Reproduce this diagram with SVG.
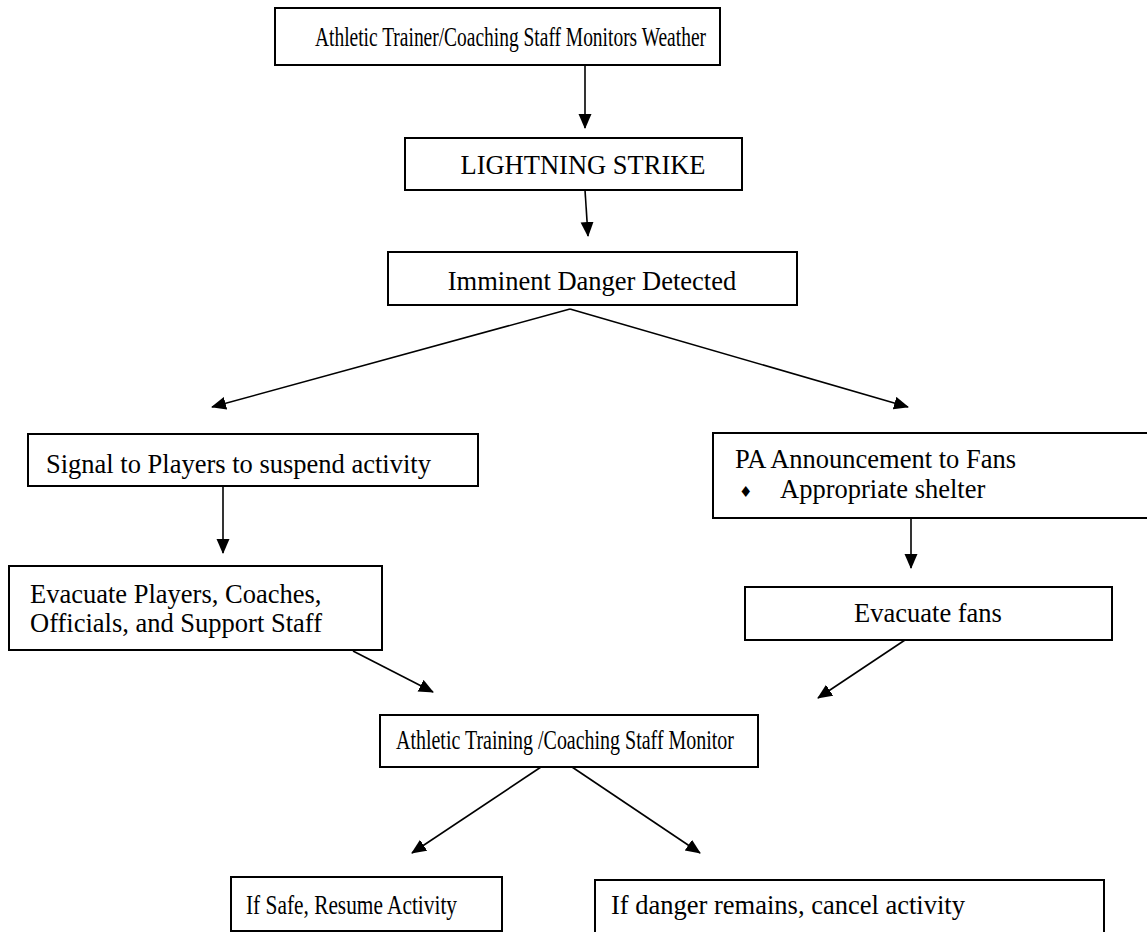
<svg xmlns="http://www.w3.org/2000/svg" width="1147" height="932" viewBox="0 0 1147 932">
<style>
.box{fill:#fff;stroke:#000;stroke-width:2}
.t{font-family:"Liberation Serif","Times New Roman",serif;font-size:26.5px;fill:#000}
.c{text-anchor:middle}
.ln{stroke:#000;stroke-width:1.6;fill:none;marker-end:url(#ah)}
</style>
<defs>
<marker id="ah" markerUnits="userSpaceOnUse" markerWidth="16" markerHeight="14" refX="14" refY="6.5" orient="auto" viewBox="0 0 16 14">
<path d="M0,0 L15,6.5 L0,13 z" fill="#000"/>
</marker>
</defs>
<rect width="1147" height="932" fill="#fff"/>
<g id="connectors">
<line class="ln" x1="585" y1="65" x2="585" y2="128"/>
<line class="ln" x1="585" y1="190" x2="588" y2="236"/>
<line class="ln" x1="570" y1="309" x2="212" y2="407"/>
<line class="ln" x1="570" y1="309" x2="908" y2="407"/>
<line class="ln" x1="223" y1="486" x2="223" y2="553"/>
<line class="ln" x1="911" y1="518" x2="911" y2="568"/>
<line class="ln" x1="353" y1="651" x2="433" y2="692"/>
<line class="ln" x1="905" y1="640" x2="818" y2="698"/>
<line class="ln" x1="541" y1="767" x2="412" y2="853"/>
<line class="ln" x1="572" y1="767" x2="700" y2="853"/>
</g>
<g id="monitors-weather">
<rect class="box" x="275" y="8" width="445" height="57"/>
<text class="t" x="315" y="46" textLength="391" lengthAdjust="spacingAndGlyphs">Athletic Trainer/Coaching Staff Monitors Weather</text>
</g>
<g id="lightning-strike">
<rect class="box" x="405" y="138" width="337" height="52"/>
<text class="t c" x="583" y="174">LIGHTNING STRIKE</text>
</g>
<g id="imminent-danger">
<rect class="box" x="388" y="252" width="409" height="53"/>
<text class="t c" x="592" y="290">Imminent Danger Detected</text>
</g>
<g id="signal-players">
<rect class="box" x="28" y="434" width="450" height="52"/>
<text class="t" x="46" y="473">Signal to Players to suspend activity</text>
</g>
<g id="pa-announcement">
<rect class="box" x="713" y="433" width="440" height="85"/>
<text class="t" x="735" y="468">PA Announcement to Fans</text>
<text x="739" y="497" style="font-family:'DejaVu Sans',sans-serif;font-size:15px">♦</text>
<text class="t" x="780" y="498">Appropriate shelter</text>
</g>
<g id="evacuate-players">
<rect class="box" x="9" y="566" width="373" height="84"/>
<text class="t" x="30" y="603">Evacuate Players, Coaches,</text>
<text class="t" x="30" y="632">Officials, and Support Staff</text>
</g>
<g id="evacuate-fans">
<rect class="box" x="745" y="587" width="367" height="53"/>
<text class="t c" x="928" y="622">Evacuate fans</text>
</g>
<g id="staff-monitor">
<rect class="box" x="380" y="715" width="378" height="52"/>
<text class="t" x="396" y="749" textLength="338" lengthAdjust="spacingAndGlyphs">Athletic Training /Coaching Staff Monitor</text>
</g>
<g id="resume-activity">
<rect class="box" x="231" y="877" width="271" height="54"/>
<text class="t" x="246" y="914" textLength="211" lengthAdjust="spacingAndGlyphs">If Safe, Resume Activity</text>
</g>
<g id="cancel-activity">
<rect class="box" x="595" y="880" width="509" height="60"/>
<text class="t" x="611" y="914">If danger remains, cancel activity</text>
</g>
</svg>
